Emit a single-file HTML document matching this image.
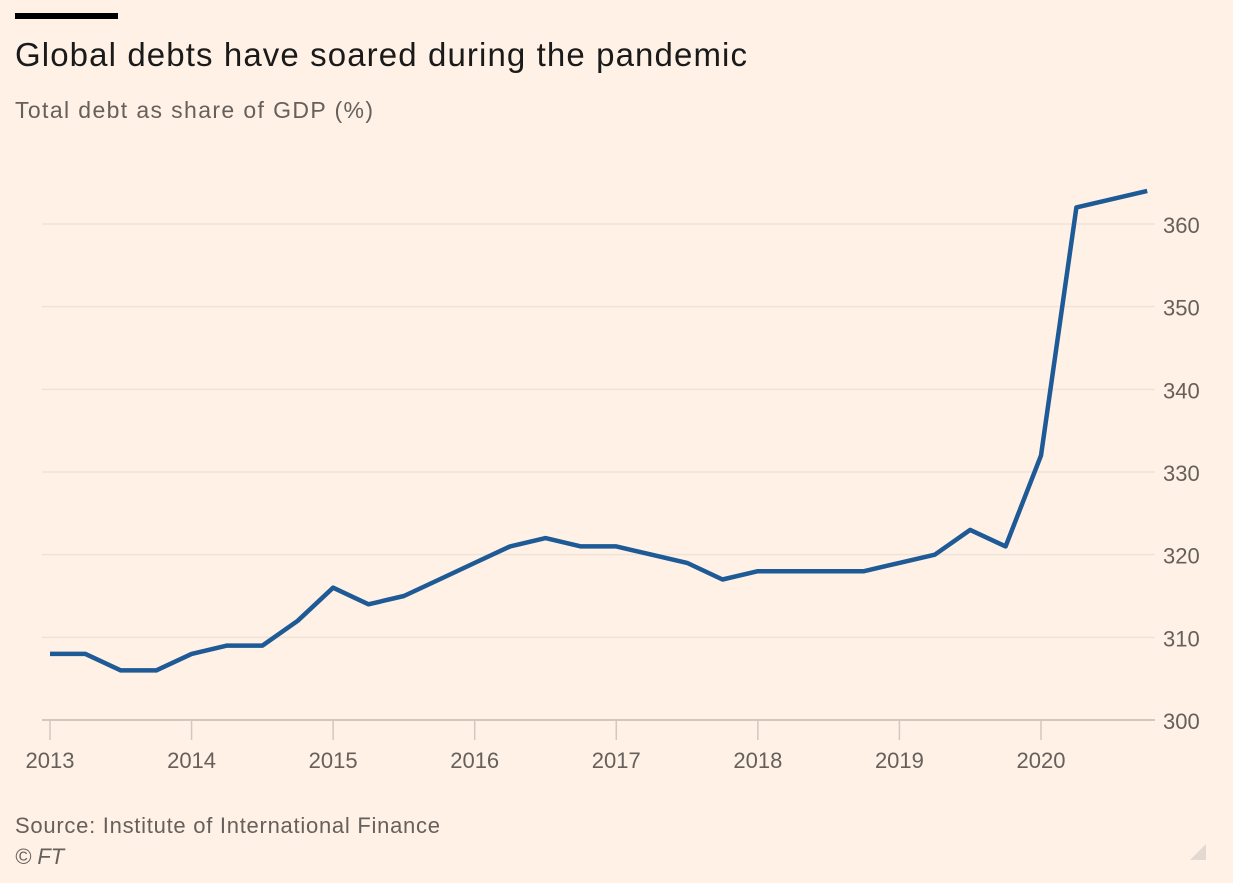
<!DOCTYPE html>
<html><head><meta charset="utf-8"><style>
body{margin:0;background:#fff1e5;width:1233px;height:883px;overflow:hidden;font-family:"Liberation Sans",sans-serif;}
svg{position:absolute;left:0;top:0}
</style></head><body>
<svg width="1233" height="883">
<rect x="15" y="13" width="103" height="6" fill="#000"/>
<text x="15" y="66" font-size="33" fill="#1a1a1a" textLength="732" lengthAdjust="spacing">Global debts have soared during the pandemic</text>
<text x="15" y="118" font-size="23" fill="#66605c" textLength="358" lengthAdjust="spacing">Total debt as share of GDP (%)</text>
<g id="grid"></g><g id="xaxis"></g>
<path id="line" fill="none" stroke="#1d5a96" stroke-width="4.5" stroke-linejoin="round"/>
<text x="15" y="833" font-size="22" fill="#66605c" textLength="425" lengthAdjust="spacing">Source: Institute of International Finance</text>
<text x="15" y="864" font-size="22" font-style="italic" fill="#66605c">© FT</text>
<polygon points="1190,860 1206,844 1206,860" fill="#e3d9d0"/>
</svg>
<script>
const yTicks=[300,310,320,330,340,350,360];
const xYears=[2013,2014,2015,2016,2017,2018,2019,2020];
const values=[308,308,306,306,308,309,309,312,316,314,315,317,319,321,322,321,321,320,319,317,318,318,318,318,319,320,323,321,332,362,363,364];
const startYear=2013;
const ns="http://www.w3.org/2000/svg";
const xs=t=>50+(t-2013)*141.57;
const ys=v=>720-(v-300)*8.267;
const grid=document.getElementById('grid'),xa=document.getElementById('xaxis');
function mk(tag,attrs,parent,txt){const e=document.createElementNS(ns,tag);for(const k in attrs)e.setAttribute(k,attrs[k]);if(txt!==undefined)e.textContent=txt;parent.appendChild(e);return e;}
yTicks.forEach(v=>{
 const l=mk('line',{x1:42,x2:1155,y1:ys(v),y2:ys(v),stroke:v===300?'#d4c8be':'#efe2d7','stroke-width':v===300?2:1.5},grid);
 
 
 const t=mk('text',{x:1163,y:ys(v)+9,'font-size':22,fill:'#66605c'},grid,v);
 
 
});
xYears.forEach(yr=>{
 const l=mk('line',{x1:xs(yr),x2:xs(yr),y1:720,y2:740,stroke:'#d4c8be','stroke-width':1.5},xa);
 
 
 const t=mk('text',{x:xs(yr),y:768,'font-size':22,fill:'#66605c','text-anchor':'middle'},xa,yr);
 
 
});
document.getElementById('line').setAttribute('d',values.map((v,i)=>(i?'L':'M')+xs(startYear+i*0.25).toFixed(1)+','+ys(v).toFixed(1)).join(''));
</script>
</body></html>
